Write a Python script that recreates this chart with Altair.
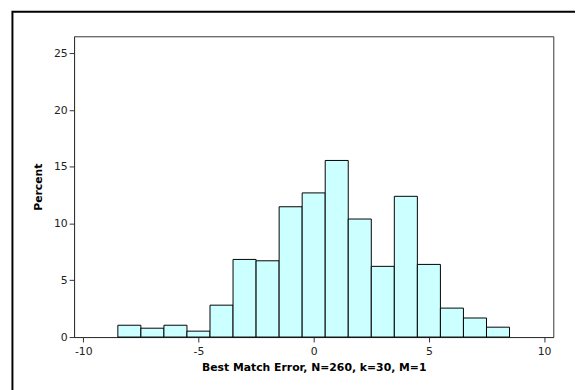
import altair as alt
import pandas as pd

# bin centers (width 1) and percent heights
centers = [-8, -7, -6, -5, -4, -3, -2, -1, 0, 1, 2, 3, 4, 5, 6, 7, 8]
percents = [1.04, 0.78, 1.04, 0.52, 2.81, 6.84, 6.72, 11.48, 12.70, 15.56,
            10.40, 6.23, 12.40, 6.40, 2.55, 1.68, 0.87]
x_ticks = [-10, -5, 0, 5, 10]
y_ticks = [0, 5, 10, 15, 20, 25]

df = pd.DataFrame({"center": centers, "pct": percents, "base": [0] * len(centers)})

FONT = "DejaVu Sans"

bars = alt.Chart(df).transform_calculate(
    lo="datum.center - 0.5", hi="datum.center + 0.5"
).mark_rect(fill="#CCFFFF", stroke="#000000", strokeWidth=1).encode(
    x=alt.X("lo:Q", scale=alt.Scale(domain=[-10.4, 10.4], nice=False, zero=False),
            axis=alt.Axis(values=x_ticks, title="Best Match Error, N=260, k=30, M=1",
                          grid=False, tickSize=5, labelPadding=4, titlePadding=5,
                          labelExpr="datum.value + ''")),
    x2="hi:Q",
    y=alt.Y("pct:Q", scale=alt.Scale(domain=[0, 26.5], nice=False),
            axis=alt.Axis(values=y_ticks, title="Percent", grid=False,
                          tickSize=5, labelPadding=2, titlePadding=10,
                          labelExpr="datum.value + ''")),
    y2="base:Q",
)

frame = alt.Chart(alt.Data(values=[{}])).mark_rect(
    fill=None, stroke="#000000", strokeWidth=2
).encode(
    x=alt.value(-62.5), x2=alt.value(530), y=alt.value(-25), y2=alt.value(370)
)

chart = alt.layer(bars, frame).properties(
    width=486, height=305,
    autosize=alt.AutoSizeParams(type="none"),
    padding={"left": 67, "top": 26, "right": 22, "bottom": 51},
    background="white",
).configure_view(
    stroke="#333333", strokeWidth=1
).configure_axis(
    labelFont=FONT, titleFont=FONT, labelFontSize=11, titleFontSize=11,
    labelColor="#222222", titleColor="#000000", titleFontWeight="bold",
    domainColor="#333333", tickColor="#333333", labelFontWeight="normal",
)

chart.save("out.html", embed_options={"renderer": "svg", "actions": False})
